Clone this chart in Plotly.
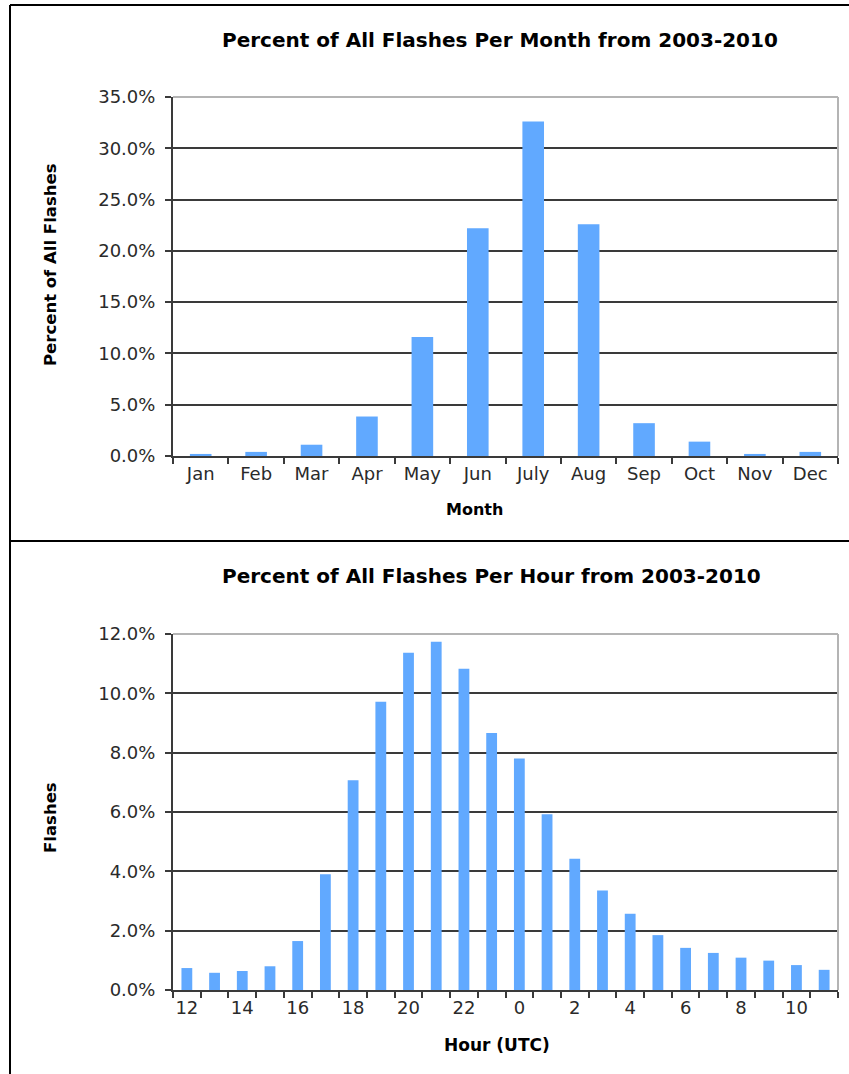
import plotly.graph_objects as go

# ---- data ----
months = ["Jan", "Feb", "Mar", "Apr", "May", "Jun", "July", "Aug", "Sep", "Oct", "Nov", "Dec"]
month_pct = [0.2, 0.4, 1.1, 3.85, 11.6, 22.2, 32.6, 22.6, 3.2, 1.4, 0.2, 0.4]

hours = ["12", "13", "14", "15", "16", "17", "18", "19", "20", "21", "22", "23",
         "0", "1", "2", "3", "4", "5", "6", "7", "8", "9", "10", "11"]
hour_pct = [0.74, 0.58, 0.64, 0.80, 1.65, 3.90, 7.07, 9.72, 11.37, 11.74, 10.83, 8.66,
            7.80, 5.92, 4.42, 3.35, 2.57, 1.85, 1.42, 1.25, 1.09, 0.99, 0.84, 0.68]
hour_ticktext = [h if i % 2 == 0 else "" for i, h in enumerate(hours)]

title_top = "Percent of All Flashes Per Month from 2003-2010"
title_bottom = "Percent of All Flashes Per Hour from 2003-2010"

# ---- geometry helpers (pixels -> paper) ----
W, H = 849, 1074
def px(x):
    return x / W
def py(y):
    return 1 - y / H

BAR = "#61a9ff"
GRID = "#3a3a3a"
TXT = "#2a2a2a"
FONT = "DejaVu Sans"

fig = go.Figure()
fig.add_trace(go.Bar(x=months, y=month_pct, marker=dict(color=BAR, line=dict(width=0)),
                     xaxis="x", yaxis="y", showlegend=False))
fig.add_trace(go.Bar(x=hours, y=hour_pct, marker=dict(color=BAR, line=dict(width=0)),
                     xaxis="x2", yaxis="y2", showlegend=False))

common_x = dict(type="category", tickson="boundaries", ticks="outside", ticklen=6,
                tickwidth=1.5, tickcolor=GRID, showline=True, linecolor=GRID, linewidth=2,
                showgrid=False, tickangle=0, automargin=False,
                tickfont=dict(family=FONT, size=18, color=TXT), fixedrange=True)
common_y = dict(ticks="outside", ticklen=6, tickwidth=1.5, tickcolor=GRID, showline=True,
                linecolor=GRID, linewidth=2, showgrid=True, gridcolor=GRID, gridwidth=1.5,
                tickformat=".1f", ticksuffix="%", ticklabelstandoff=6, automargin=False,
                tickfont=dict(family=FONT, size=18, color=TXT), zeroline=False)

fig.update_layout(
    width=W, height=H, margin=dict(l=0, r=0, t=0, b=0, autoexpand=False),
    paper_bgcolor="white", plot_bgcolor="white", bargap=0.61,
    xaxis=dict(common_x, domain=[px(173), px(838)], anchor="y", categoryorder="array",
               categoryarray=months),
    yaxis=dict(common_y, domain=[py(456), py(97)], anchor="x", range=[0, 35], dtick=5),
    xaxis2=dict(common_x, domain=[px(173), px(838)], anchor="y2", categoryorder="array",
                categoryarray=hours, tickmode="array", tickvals=hours, ticktext=hour_ticktext),
    yaxis2=dict(common_y, domain=[py(990), py(634)], anchor="x2", range=[0, 12], dtick=2),
)

# plot-area borders (top/right light gray)
for (x0, x1, y0, y1) in [(173, 838, 97, 456), (173, 838, 634, 990)]:
    fig.add_shape(type="line", xref="paper", yref="paper", x0=px(x0), x1=px(x1), y0=py(y0), y1=py(y0),
                  line=dict(color="#b4b4b4", width=2), layer="above")
    fig.add_shape(type="line", xref="paper", yref="paper", x0=px(x1), x1=px(x1), y0=py(y0), y1=py(y1),
                  line=dict(color="#b4b4b4", width=2), layer="above")

# outer frame
fig.add_shape(type="line", xref="paper", yref="paper", x0=px(10), x1=1, y0=py(5), y1=py(5),
              line=dict(color="black", width=2))
fig.add_shape(type="line", xref="paper", yref="paper", x0=px(10), x1=px(10), y0=py(5), y1=0,
              line=dict(color="black", width=2))
fig.add_shape(type="line", xref="paper", yref="paper", x0=px(10), x1=1, y0=py(541), y1=py(541),
              line=dict(color="black", width=2))

def ann(text, x, y, size, angle=0):
    fig.add_annotation(text=f"<b>{text}</b>", xref="paper", yref="paper", x=px(x), y=py(y),
                       showarrow=False, textangle=angle, xanchor="center", yanchor="middle",
                       font=dict(family=FONT, size=size, color="black"))

ann(title_top, 500, 40, 20)
ann("Month", 474, 509, 16)
ann("Percent of All Flashes", 50, 265, 16.5, -90)
ann(title_bottom, 491, 576, 20)
ann("Hour (UTC)", 497, 1045, 17)
ann("Flashes", 50, 818, 16.5, -90)

fig.write_html("out.html", config={"displayModeBar": False},
               post_script="document.body.style.margin='0';")
